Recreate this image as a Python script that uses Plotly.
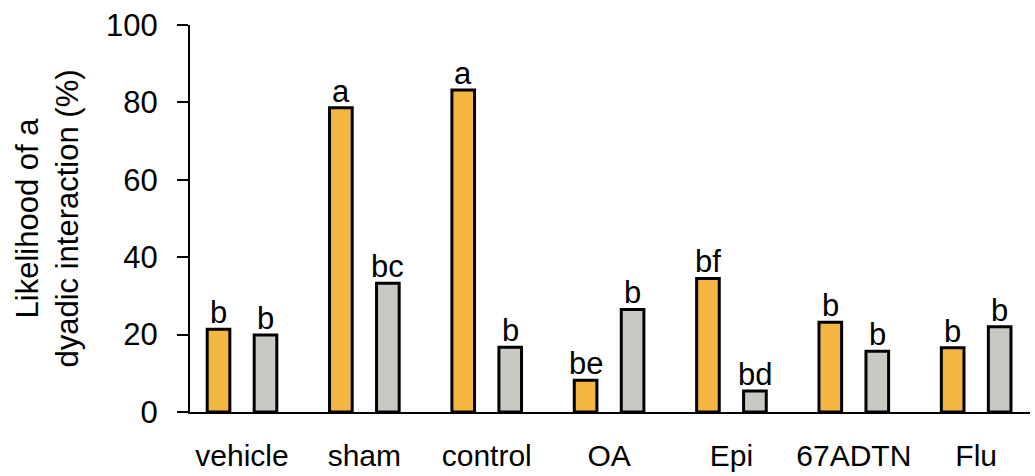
import plotly.graph_objects as go

# Treatment groups along the x axis
categories = ["vehicle", "sham", "control", "OA", "Epi", "67ADTN", "Flu"]

# Likelihood of a dyadic interaction (%) for the two bars in each group
orange_values = [21.4, 78.6, 83.2, 8.2, 34.5, 23.2, 16.6]
gray_values = [19.9, 33.3, 16.7, 26.5, 5.4, 15.7, 22.0]

# Significance letters drawn above each bar
orange_letters = ["b", "a", "a", "be", "bf", "b", "b"]
gray_letters = ["b", "bc", "b", "b", "bd", "b", "b"]

y_ticks = [0, 20, 40, 60, 80, 100]

FONT = "Liberation Sans, Arial, Helvetica, sans-serif"
ORANGE = "#F3B640"
GRAY = "#C9C9C4"
BAR_W = 0.185
HALF_SEP = 0.192

fig = go.Figure()
fig.add_trace(go.Bar(
    x=categories, y=orange_values, width=BAR_W, offset=-HALF_SEP - BAR_W / 2,
    marker=dict(color=ORANGE, line=dict(color="black", width=3)),
    showlegend=False, hoverinfo="skip",
))
fig.add_trace(go.Bar(
    x=categories, y=gray_values, width=BAR_W, offset=HALF_SEP - BAR_W / 2,
    marker=dict(color=GRAY, line=dict(color="black", width=3)),
    showlegend=False, hoverinfo="skip",
))

# Letters over the bars, positioned from the same values as the bars
annotations = []
for i, (val, txt) in enumerate(zip(orange_values, orange_letters)):
    annotations.append(dict(
        x=i - HALF_SEP, y=val, xref="x", yref="y", text=txt, showarrow=False,
        yanchor="bottom", yshift=-3, font=dict(family=FONT, size=31, color="black"),
    ))
for i, (val, txt) in enumerate(zip(gray_values, gray_letters)):
    annotations.append(dict(
        x=i + HALF_SEP, y=val, xref="x", yref="y", text=txt, showarrow=False,
        yanchor="bottom", yshift=-3, font=dict(family=FONT, size=31, color="black"),
    ))

fig.update_layout(
    width=1035, height=476,
    margin=dict(l=190, r=5, t=25, b=64),
    paper_bgcolor="white", plot_bgcolor="white",
    barmode="overlay",
    font=dict(family=FONT, size=31, color="black"),
    annotations=annotations,
    xaxis=dict(
        type="category", range=[-0.425, 6.44], automargin=False,
        showline=True, linecolor="black", linewidth=2,
        ticks="", showgrid=False, zeroline=False,
        tickfont=dict(family=FONT, size=30, color="black"),
        ticklabelstandoff=16,
    ),
    yaxis=dict(
        range=[0, 100], tickvals=y_ticks, ticktext=[str(v) for v in y_ticks],
        automargin=False,
        showline=True, linecolor="black", linewidth=2,
        ticks="outside", ticklen=11, tickwidth=2, tickcolor="black",
        showgrid=False, zeroline=False,
        tickfont=dict(family=FONT, size=31, color="black"),
        ticklabelstandoff=13,
        title=dict(text="Likelihood of a<br>dyadic interaction (%)",
                   font=dict(family=FONT, size=31, color="black"), standoff=18),
    ),
)

fig.write_html("out.html")
